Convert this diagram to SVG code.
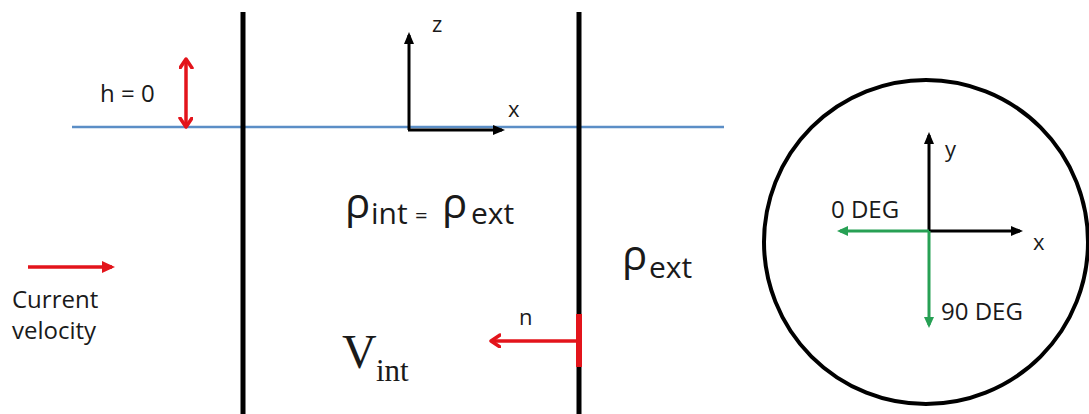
<svg xmlns="http://www.w3.org/2000/svg" width="1089" height="414" viewBox="0 0 1089 414">
<style>
.lbl{font-family:"Open Sans","Liberation Sans",sans-serif;fill:#1a1a1a}
.serif{font-family:"Liberation Serif","Times New Roman",serif;fill:#1a1a1a}
.wall{stroke:#000;stroke-width:5;fill:none}
.ax{stroke:#000;stroke-width:3;fill:none}
.red{stroke:#e3141b;stroke-width:3.5;fill:none}
.grn{stroke:#27a054;stroke-width:3;fill:none}
</style>
<defs>
<marker id="ahBlack" markerUnits="userSpaceOnUse" markerWidth="14" markerHeight="12" refX="9" refY="5" orient="auto"><path d="M0,0 L12,5 L0,10 z" fill="#000"/></marker>
<marker id="ahGreen" markerUnits="userSpaceOnUse" markerWidth="14" markerHeight="12" refX="8" refY="5" orient="auto"><path d="M0,0 L11,5 L0,10 z" fill="#27a054"/></marker>
<marker id="ahRedFill" markerUnits="userSpaceOnUse" markerWidth="16" markerHeight="14" refX="10" refY="6" orient="auto"><path d="M0,0 L13,6 L0,12 z" fill="#e3141b"/></marker>
<marker id="ahRedOpen" markerUnits="userSpaceOnUse" markerWidth="16" markerHeight="16" refX="10" refY="7" orient="auto-start-reverse"><path d="M1,1 L10,7 L1,13" fill="none" stroke="#e3141b" stroke-width="3.5" stroke-linecap="round" stroke-linejoin="round"/></marker>
</defs>
<rect width="1089" height="414" fill="#fff"/>
<g id="water-surface"><line x1="72" y1="127" x2="724" y2="127" stroke="#5b8ec6" stroke-width="2.5"/></g>
<g id="left-wall"><line class="wall" x1="243" y1="12" x2="243" y2="414"/></g>
<g id="right-wall"><line class="wall" x1="579" y1="12" x2="579" y2="414"/><line x1="579" y1="314" x2="579" y2="367" stroke="#e3141b" stroke-width="6"/></g>
<g id="connectors">
<line class="red" x1="186" y1="59" x2="186" y2="127" marker-start="url(#ahRedOpen)" marker-end="url(#ahRedOpen)"/>
<line class="ax" x1="409" y1="130" x2="409" y2="35" marker-end="url(#ahBlack)"/>
<line class="ax" x1="408" y1="130" x2="502" y2="130" marker-end="url(#ahBlack)"/>
<line class="red" x1="28" y1="267" x2="112" y2="267" stroke-width="4" marker-end="url(#ahRedFill)"/>
<line class="red" x1="577" y1="341" x2="491" y2="341" marker-end="url(#ahRedOpen)"/>
<line class="ax" x1="929" y1="232" x2="929" y2="135" marker-end="url(#ahBlack)"/>
<line class="ax" x1="928" y1="231" x2="1020" y2="231" marker-end="url(#ahBlack)"/>
<line class="grn" x1="929" y1="231" x2="840" y2="231" marker-end="url(#ahGreen)"/>
<line class="grn" x1="929" y1="231" x2="929" y2="325" marker-end="url(#ahGreen)"/>
</g>
<g id="cross-section"><circle cx="926" cy="242" r="162" fill="none" stroke="#000" stroke-width="4"/></g>
<g id="labels">
<text class="lbl" x="100" y="102" font-size="24">h = 0</text>
<text class="lbl" x="432" y="32" font-size="22">z</text>
<text class="lbl" x="508" y="117" font-size="22">x</text>
<text class="lbl"><tspan x="345" y="218" font-size="42">ρ</tspan><tspan x="371" y="224" font-size="30">int</tspan><tspan x="415" y="223" font-size="22">=</tspan><tspan x="442" y="218" font-size="42">ρ</tspan><tspan x="471" y="224" font-size="30">ext</tspan></text>
<text class="lbl"><tspan x="622" y="270" font-size="42">ρ</tspan><tspan x="649" y="278" font-size="30">ext</tspan></text>
<text class="serif"><tspan x="342" y="368" font-size="48">V</tspan><tspan x="376" y="381" font-size="31">int</tspan></text>
<text class="lbl" x="519" y="325" font-size="22">n</text>
<text class="lbl" font-size="24"><tspan x="12" y="308">Current</tspan><tspan x="12" y="339">velocity</tspan></text>
<text class="lbl" x="945" y="157" font-size="22">y</text>
<text class="lbl" x="1033" y="250" font-size="22">x</text>
<text class="lbl" x="831" y="218" font-size="24">0 DEG</text>
<text class="lbl" x="941" y="320" font-size="24">90 DEG</text>
</g>
</svg>
